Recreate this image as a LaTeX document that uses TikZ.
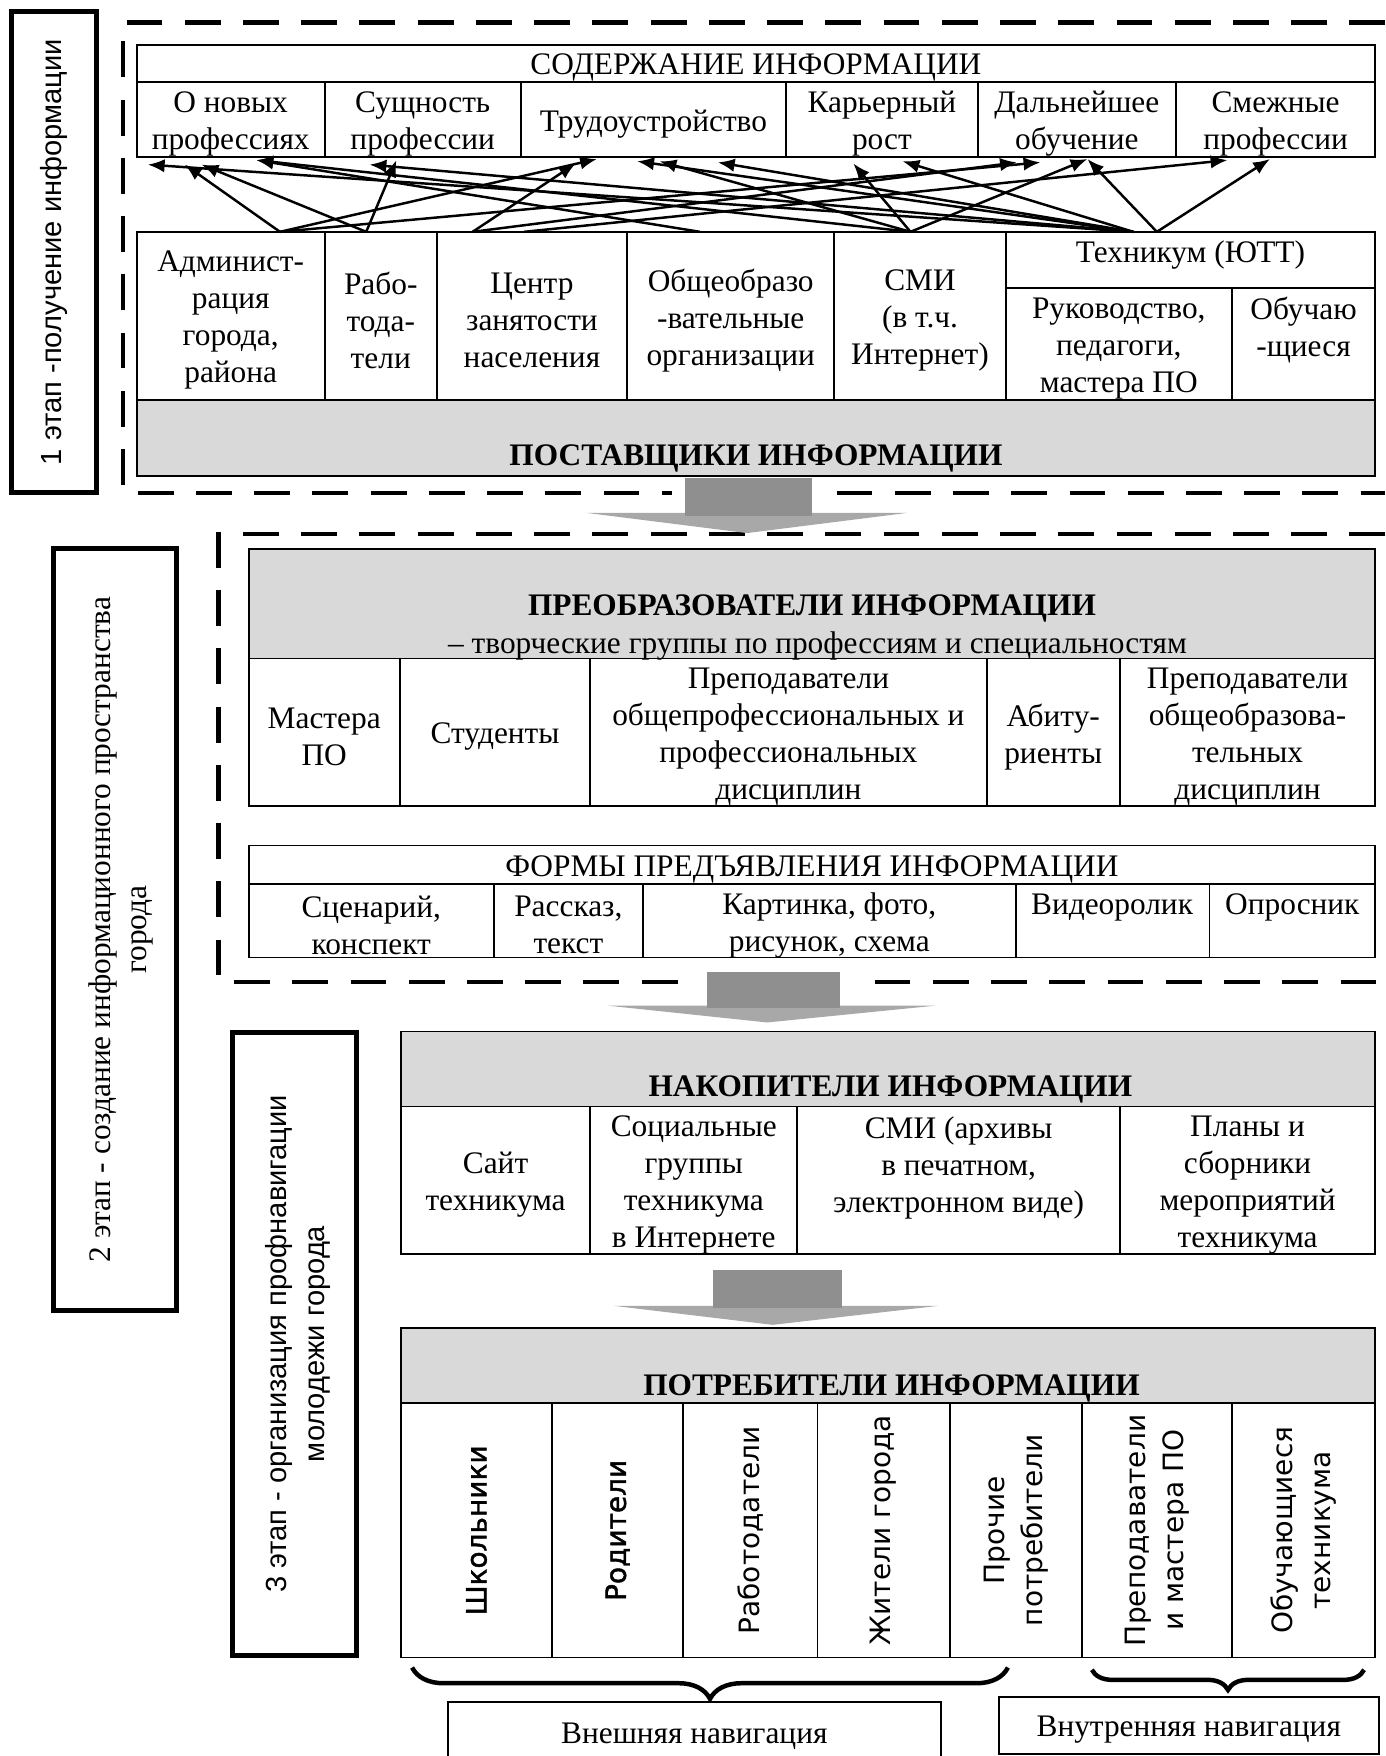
\documentclass[tikz,border=0pt]{standalone}
\usepackage{fontspec}
\setmainfont{Liberation Serif}
\newfontfamily\lsansfam{Liberation Sans}
\newfontfamily\dvsansfam{DejaVu Sans}
\newfontfamily\dvsansbfam[FakeBold=1.5]{DejaVu Sans}
\usetikzlibrary{decorations.pathreplacing,arrows.meta}
\definecolor{bandgray}{HTML}{D9D9D9}
\definecolor{shaftgray}{HTML}{8F8F8F}
\definecolor{headgray}{HTML}{A8A8A8}
\newcommand\dfs{\fontsize{14}{16.5}\selectfont}
\newcommand\vfs{\fontsize{12.5}{17}\selectfont}
\tikzset{
  cell/.style={draw, line width=0.8pt, inner sep=0pt},
  txt/.style={inner sep=0pt, align=center, font=\dfs, yshift=-2pt},
  band/.style={fill=bandgray},
  hdr/.style={inner sep=0pt, font=\dfs\bfseries, yshift=-1.5pt},
  stagebox/.style={line width=2.2pt},
  stagetxt/.style={inner sep=0pt, rotate=90, align=center},
  dframe/.style={line width=2pt, dash pattern=on 16pt off 10pt},
  arr/.style={line width=1.1pt, -{Latex[length=7.5pt,width=6pt]}},
  vtxt/.style={inner sep=0pt, rotate=90, align=center, font=\vfs\dvsansfam},
  vtxtb/.style={inner sep=0pt, rotate=90, align=center, font=\vfs\dvsansbfam},
  bracedown/.style={decorate, decoration={brace, mirror, amplitude=#1}, line width=2pt},
}
% [style]{name}{x1}{y1}{x2}{y2}{text}
\newcommand\mkcell[7][]{\node[cell,#1,minimum width={(#5-#3)*0.5pt},minimum height={(#6-#4)*0.5pt}] (#2) at ({(#3+#5)/2},{(#4+#6)/2}) {};
  \node[txt] (#2t) at (#2.center) {#7};}
\begin{document}
\begin{tikzpicture}[x=0.5pt,y=-0.5pt]
\useasboundingbox (0,0) rectangle (1237,1568);
\fill[white] (0,0) rectangle (1237,1568);

% dashed frames
\draw[dframe] (1237,20) -- (110,20) -- (110,440) -- (1237,440);
\draw[dframe] (1237,477) -- (195,477) -- (195,877) -- (1237,877);

% stage boxes
\mkcell[stagebox]{st1}{10}{10}{86}{440}{}
\node[stagetxt, font=\fontsize{13}{16.5}\selectfont\lsansfam] (st1l) at (48,225) {1 этап -получение информации};
\mkcell[stagebox]{st2}{48}{490}{158}{1170}{}
\node[stagetxt, font=\dfs\rmfamily] (st2l) at (108,830) {2 этап - создание информационного пространства\\города};
\mkcell[stagebox]{st3}{208}{922}{318}{1478}{}
\node[stagetxt, font=\fontsize{13}{17}\selectfont\lsansfam] (st3l) at (266,1200) {3 этап - организация профнавигации\\молодежи города};

% content table
\mkcell{sod}{122}{40}{1228}{73}{СОДЕРЖАНИЕ ИНФОРМАЦИИ}
\mkcell{c1}{122}{73}{290}{140}{О новых\\профессиях}
\mkcell{c2}{290}{73}{465}{140}{Сущность\\профессии}
\mkcell{c3}{465}{73}{702}{140}{Трудоустройство}
\mkcell{c4}{702}{73}{873}{140}{Карьерный\\рост}
\mkcell{c5}{873}{73}{1050}{140}{Дальнейшее\\обучение}
\mkcell{c6}{1050}{73}{1228}{140}{Смежные\\профессии}

% providers
\mkcell{p1}{122}{207}{290}{357}{Админист-\\рация\\города,\\района}
\mkcell{p2}{290}{207}{390}{357}{Рабо-\\тода-\\тели}
\mkcell{p3}{390}{207}{560}{357}{Центр\\занятости\\населения}
\mkcell{p4}{560}{207}{745}{357}{Общеобразо\\-вательные\\организации}
\mkcell{p5}{745}{207}{898}{357}{СМИ\\(в т.ч.\\Интернет)}
\mkcell{p6}{898}{207}{1228}{257}{}
\node[txt] (p6l) at (1063,224) {Техникум (ЮТТ)};
\mkcell{p7}{898}{257}{1100}{357}{Руководство,\\педагоги,\\мастера ПО}
\mkcell{p8}{1100}{257}{1228}{357}{}
\node[txt] (p8l) at (1164,291) {Обучаю\\-щиеся};
\mkcell[band]{pb}{122}{357}{1228}{425}{}
\node[hdr] (pbl) at (675,406) {ПОСТАВЩИКИ ИНФОРМАЦИИ};

% arrows between providers and content
\coordinate (sA) at (250,207);
\coordinate (sB) at (327,207);
\coordinate (sC1) at (422,207);
\coordinate (sC2) at (468,207);
\coordinate (sD) at (625,207);
\coordinate (sE) at (813,207);
\coordinate (sF1) at (1012,207);
\coordinate (sF2) at (1033,207);
\coordinate (tA) at (132,147);
\coordinate (tB) at (165,147);
\coordinate (tC) at (180,147);
\coordinate (tD) at (229,143);
\coordinate (tE) at (330,147);
\coordinate (tF) at (354,143);
\coordinate (tG) at (514,146);
\coordinate (tH) at (533,142);
\coordinate (tI) at (569,144);
\coordinate (tJ) at (589,144);
\coordinate (tK) at (641,145);
\coordinate (tL) at (762,146);
\coordinate (tM) at (806,144);
\coordinate (tN) at (908,145);
\coordinate (tO) at (929,145);
\coordinate (tP) at (971,142);
\coordinate (tQ) at (1096,143);
\coordinate (tR) at (1134,142);
\foreach \s/\t in {sF1/tA, sF1/tE, sF1/tI, sF1/tK, sF1/tM, sF2/tP, sF2/tR,
  sA/tB, sB/tC, sB/tF, sA/tH, sA/tO, sC1/tG, sC1/tN, sC2/tQ,
  sD/tD, sE/tD, sE/tJ, sE/tL, sE/tP}
  \draw[arr] (\s) -- (\t);

% block arrow 1
\fill[white] (600,426) rectangle (738,462);
\fill[headgray] (524,458) -- (810,458) -- (667,476) -- cycle;
\fill[shaftgray] (612,427) rectangle (725,461);

% transformers
\mkcell[band]{tb}{222}{490}{1228}{588}{}
\node[hdr] (tbl) at (725,540) {ПРЕОБРАЗОВАТЕЛИ ИНФОРМАЦИИ};
\node[txt] (tbs) at (730,573) {– творческие группы по профессиям и специальностям};
\mkcell{m1}{222}{588}{357}{720}{Мастера\\ПО}
\mkcell{m2}{357}{588}{527}{720}{Студенты}
\mkcell{m3}{527}{588}{881}{720}{Преподаватели\\общепрофессиональных и\\профессиональных\\дисциплин}
\mkcell{m4}{881}{588}{1000}{720}{Абиту-\\риенты}
\mkcell{m5}{1000}{588}{1228}{720}{Преподаватели\\общеобразова-\\тельных\\дисциплин}

% forms
\mkcell{ft}{222}{755}{1228}{789}{ФОРМЫ ПРЕДЪЯВЛЕНИЯ ИНФОРМАЦИИ}
\mkcell{f1}{222}{789}{441}{855}{Сценарий,\\конспект}
\mkcell{f2}{441}{789}{574}{855}{Рассказ,\\текст}
\mkcell{f3}{574}{789}{907}{855}{Картинка, фото,\\рисунок, схема}
\mkcell{f4}{907}{789}{1080}{855}{}
\node[txt] (f4l) at (993,806) {Видеоролик};
\mkcell{f5}{1080}{789}{1228}{855}{}
\node[txt] (f5l) at (1154,806) {Опросник};

% block arrow 2
\fill[white] (620,865) rectangle (762,902);
\fill[headgray] (543,898) -- (835,898) -- (685,913) -- cycle;
\fill[shaftgray] (631,868) rectangle (750,900);

% accumulators
\mkcell[band]{nb}{358}{921}{1228}{988}{}
\node[hdr] (nbl) at (795,970) {НАКОПИТЕЛИ ИНФОРМАЦИИ};
\mkcell{n1}{358}{988}{527}{1120}{Сайт\\техникума}
\mkcell{n2}{527}{988}{712}{1120}{Социальные\\группы\\техникума\\в Интернете}
\mkcell{n3}{712}{988}{1000}{1120}{}
\node[txt] (n3l) at (856,1039) {СМИ (архивы\\в печатном,\\электронном виде)};
\mkcell{n4}{1000}{988}{1228}{1120}{Планы и\\сборники\\мероприятий\\техникума}

% block arrow 3
\fill[headgray] (548,1166) -- (838,1166) -- (690,1183) -- cycle;
\fill[shaftgray] (637,1134) rectangle (752,1168);

% consumers
\mkcell[band]{cb}{358}{1186}{1228}{1253}{}
\node[hdr] (cbl) at (796,1237) {ПОТРЕБИТЕЛИ ИНФОРМАЦИИ};
\mkcell{k1}{358}{1253}{493}{1480}{}
\mkcell{k2}{493}{1253}{610}{1480}{}
\mkcell{k3}{610}{1253}{730}{1480}{}
\mkcell{k4}{730}{1253}{848}{1480}{}
\mkcell{k5}{848}{1253}{966}{1480}{}
\mkcell{k6}{966}{1253}{1100}{1480}{}
\mkcell{k7}{1100}{1253}{1228}{1480}{}
\node[vtxtb] (k1l) at (k1.center) {Школьники};
\node[vtxtb] (k2l) at (k2.center) {Родители};
\node[vtxt] (k3l) at (k3.center) {Работодатели};
\node[vtxt] (k4l) at (k4.center) {Жители города};
\node[vtxt] (k5l) at (k5.center) {Прочие\\потребители};
\node[vtxt] (k6l) at (k6.center) {Преподаватели\\и мастера ПО};
\node[vtxt] (k7l) at (k7.center) {Обучающиеся\\техникума};

% braces
\draw[bracedown=14pt] (368,1489) -- (900,1489);
\draw[bracedown=9pt] (975,1491) -- (1218,1491);

% navigation boxes
\draw[line width=0.8pt] (400,1570) -- (400,1520) -- (840,1520) -- (840,1570);
\node[txt] (ext) at (620,1546) {Внешняя навигация};
\mkcell{int}{892}{1515}{1231}{1566}{Внутренняя навигация}
\end{tikzpicture}
\end{document}
